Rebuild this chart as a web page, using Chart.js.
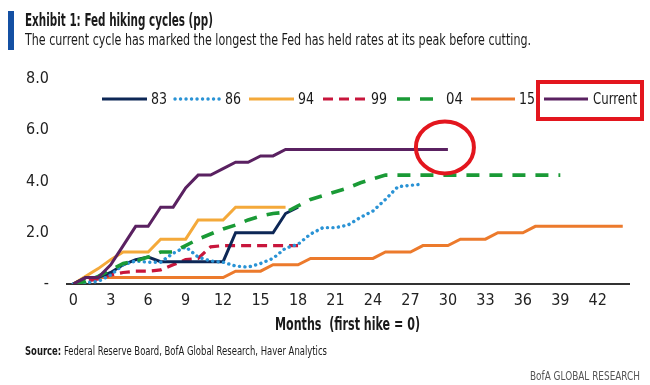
<!DOCTYPE html>
<html>
<head>
<meta charset="utf-8">
<script src="https://cdn.jsdelivr.net/npm/chart.js@4.4.1/dist/chart.umd.min.js"></script>
<style>
  html, body { margin: 0; padding: 0; background: #fff; }
  #wrap {
    position: relative; width: 650px; height: 385px; overflow: hidden;
    font-family: "Liberation Sans Narrow", "DejaVu Sans Condensed", "Liberation Sans", Arial, sans-serif;
    color: #1a1a1a;
  }
  canvas { position: absolute; left: 0; top: 0; }
  .t { position: absolute; white-space: nowrap; transform-origin: 0 50%; line-height: 1; }
  #bar { position: absolute; left: 8px; top: 11px; width: 6px; height: 39px; background: #1450a3; }
</style>
</head>
<body>
<div id="wrap">
  <canvas id="c" width="650" height="385"></canvas>
  <div id="bar"></div>
  <div class="t" data-w="188" style="left:25px;top:12px;font-size:17px;font-weight:bold;">Exhibit 1: Fed hiking cycles (pp)</div>
  <div class="t" data-w="506" style="left:25px;top:32px;font-size:16px;">The current cycle has marked the longest the Fed has held rates at its peak before cutting.</div>
  <div class="t" data-w="145" style="left:275px;top:316px;font-size:17px;font-weight:bold;">Months&nbsp; (first hike = 0)</div>
  <div class="t" data-w="302" style="left:25px;top:345px;font-size:12px;"><b>Source:</b> Federal Reserve Board, BofA Global Research, Haver Analytics</div>
  <div class="t" data-w="110" style="left:530px;top:370px;font-size:12px;color:#555;">BofA GLOBAL RESEARCH</div>
</div>
<script>
// 月数（利上げ開始 = 0）
const MONTHS = ["0","1","2","3","4","5","6","7","8","9","10","11","12","13","14","15","16","17","18","19","20","21","22",
  "23","24","25","26","27","28","29","30","31","32","33","34","35","36","37","38","39","40","41","42","43","44"];

// 各サイクルの累積利上げ幅 (pp)、グラフから読み取り
const cycle83 = [0, 0.25, 0.25, 0.45, 0.75, 0.95, 1.05, 0.87, 0.87, 0.87, 0.87, 0.87, 0.87, 2.0, 2.0, 2.0, 2.0, 2.75, 3.0];
const cycle86 = [0, 0.05, 0.1, 0.35, 0.75, 0.9, 0.85, 0.85, 1.2, 1.45, 1.05, 0.9, 0.85, 0.7, 0.66, 0.8, 1.0, 1.4, 1.55,
  1.95, 2.2, 2.2, 2.3, 2.6, 2.85, 3.3, 3.8, 3.85, 3.9];
const cycle94 = [0, 0.3, 0.6, 0.95, 1.25, 1.25, 1.25, 1.75, 1.75, 1.75, 2.5, 2.5, 2.5, 3.0, 3.0, 3.0, 3.0, 3.0];
const cycle99 = [0, 0.1, 0.2, 0.35, 0.45, 0.5, 0.5, 0.55, 0.75, 0.95, 1.0, 1.45, 1.5, 1.5, 1.5, 1.5, 1.5, 1.5, 1.5];
const cycle04 = [0, 0.1, 0.3, 0.55, 0.8, 0.9, 1.05, 1.25, 1.25, 1.5, 1.75, 1.95, 2.15, 2.3, 2.5, 2.65, 2.75, 2.8, 3.05,
  3.3, 3.45, 3.6, 3.75, 3.95, 4.1, 4.25, 4.25, 4.25, 4.25, 4.25, 4.25, 4.25, 4.25, 4.25, 4.25, 4.25, 4.25, 4.25, 4.25, 4.25];
const cycle15 = [0, 0.25, 0.25, 0.25, 0.25, 0.25, 0.25, 0.25, 0.25, 0.25, 0.25, 0.25, 0.25, 0.5, 0.5, 0.5, 0.75, 0.75, 0.75,
  1.0, 1.0, 1.0, 1.0, 1.0, 1.0, 1.25, 1.25, 1.25, 1.5, 1.5, 1.5, 1.75, 1.75, 1.75, 2.0, 2.0, 2.0,
  2.25, 2.25, 2.25, 2.25, 2.25, 2.25, 2.25, 2.25];
const cycleCurrent = [0, 0.25, 0.25, 0.75, 1.5, 2.25, 2.25, 3.0, 3.0, 3.75, 4.25, 4.25, 4.5, 4.75, 4.75, 5.0, 5.0, 5.25,
  5.25, 5.25, 5.25, 5.25, 5.25, 5.25, 5.25, 5.25, 5.25, 5.25, 5.25, 5.25, 5.25];

const Y_TICKS = [0, 2, 4, 6, 8];

const FONT = '"Liberation Sans Narrow", "DejaVu Sans Condensed", "Liberation Sans", Arial, sans-serif';

// 凡例の配置（元画像に合わせる）
const LEGEND_Y = 99;
const LEGEND_LINE_X = [102, 175, 249, 323, 397, 471, 544];
const LEGEND_LINE_LEN = [45, 45, 45, 46, 38, 44, 44];
const LEGEND_TEXT_X = [151, 225, 298, 371, 446, 519, 593];
const LEGEND_TEXT_W = [16, 16, 16, 16, 17, 16, 44];

function lineStyle(color, extra) {
  return Object.assign({
    borderColor: color, backgroundColor: color, borderWidth: 3,
    pointRadius: 0, pointHoverRadius: 0, tension: 0, fill: false,
  }, extra || {});
}

const datasets = [
  { label: "83", data: cycle83, order: 3, ...lineStyle("#0d2756") },
  { label: "86", data: cycle86, order: 2, ...lineStyle("#2a93d5", { borderDash: [0.1, 5.4], borderCapStyle: "round", borderWidth: 3.4 }) },
  { label: "94", data: cycle94, order: 5, ...lineStyle("#f4a93a") },
  { label: "99", data: cycle99, order: 4, ...lineStyle("#c8163c", { borderDash: [10, 6], borderWidth: 3.2 }) },
  { label: "04", data: cycle04, order: 1, ...lineStyle("#1a9a36", { borderDash: [13, 10], borderWidth: 3.6 }) },
  { label: "15", data: cycle15, order: 6, ...lineStyle("#ec7a2c") },
  { label: "Current", data: cycleCurrent, order: 0, ...lineStyle("#5a2161") },
];

const annotationPlugin = {
  id: "refAnnotations",
  afterDraw(chart) {
    const ctx = chart.ctx;
    ctx.save();
    ctx.font = "16px " + FONT;
    ctx.textBaseline = "middle";
    chart.data.datasets.forEach((ds, i) => {
      const x0 = LEGEND_LINE_X[i];
      ctx.beginPath();
      ctx.setLineDash(ds.borderDash || []);
      ctx.lineCap = ds.borderCapStyle || "butt";
      ctx.lineWidth = ds.borderWidth;
      ctx.strokeStyle = ds.borderColor;
      ctx.moveTo(x0, LEGEND_Y);
      ctx.lineTo(x0 + LEGEND_LINE_LEN[i], LEGEND_Y);
      ctx.stroke();
      ctx.setLineDash([]);
      ctx.fillStyle = "#1a1a1a";
      ctx.fillText(ds.label, LEGEND_TEXT_X[i], LEGEND_Y + 1, LEGEND_TEXT_W[i]);
    });

    // 赤枠（凡例 Current）と赤丸（現在サイクルの最終点）
    ctx.strokeStyle = "#e3161e";
    ctx.lineWidth = 4;
    ctx.lineCap = "butt";
    ctx.strokeRect(538, 82, 104, 37);

    const meta = chart.getDatasetMeta(chart.data.datasets.length - 1);
    const last = meta.data[meta.data.length - 1];
    ctx.beginPath();
    ctx.ellipse(last.x - 3, last.y - 2, 29, 26, 0, 0, Math.PI * 2);
    ctx.stroke();
    ctx.restore();
  },
};

new Chart(document.getElementById("c").getContext("2d"), {
  type: "line",
  data: { labels: MONTHS, datasets },
  options: {
    responsive: false,
    animation: false,
    devicePixelRatio: 1,
    layout: { padding: { left: 0, top: 79, right: 21, bottom: 71 } },
    plugins: { legend: { display: false }, tooltip: { enabled: false } },
    scales: {
      x: {
        type: "category",
        offset: true,
        grid: { display: false, drawTicks: false },
        border: { display: true, color: "#333", width: 2 },
        ticks: {
          autoSkip: false, maxRotation: 0, padding: 7, color: "#222",
          font: { family: FONT, size: 16 },
          callback: (v, i) => (i % 3 === 0 && i <= 42 ? MONTHS[i] : ""),
        },
        afterFit: (s) => { s.height = 30; },
      },
      y: {
        min: 0, max: 8,
        grid: { display: false, drawTicks: false },
        border: { display: false },
        afterBuildTicks: (s) => { s.ticks = Y_TICKS.map((v) => ({ value: v })); },
        ticks: {
          padding: 18, color: "#222",
          font: { family: FONT, size: 16 },
          callback: (v) => (v === 0 ? "-" : v.toFixed(1)),
        },
        afterFit: (s) => { s.width = 67; },
      },
    },
  },
  plugins: [annotationPlugin],
});

document.querySelectorAll(".t").forEach((el) => {
  const w = el.getBoundingClientRect().width;
  el.style.transform = "scaleX(" + (Number(el.dataset.w) / w) + ")";
});
</script>
</body>
</html>
